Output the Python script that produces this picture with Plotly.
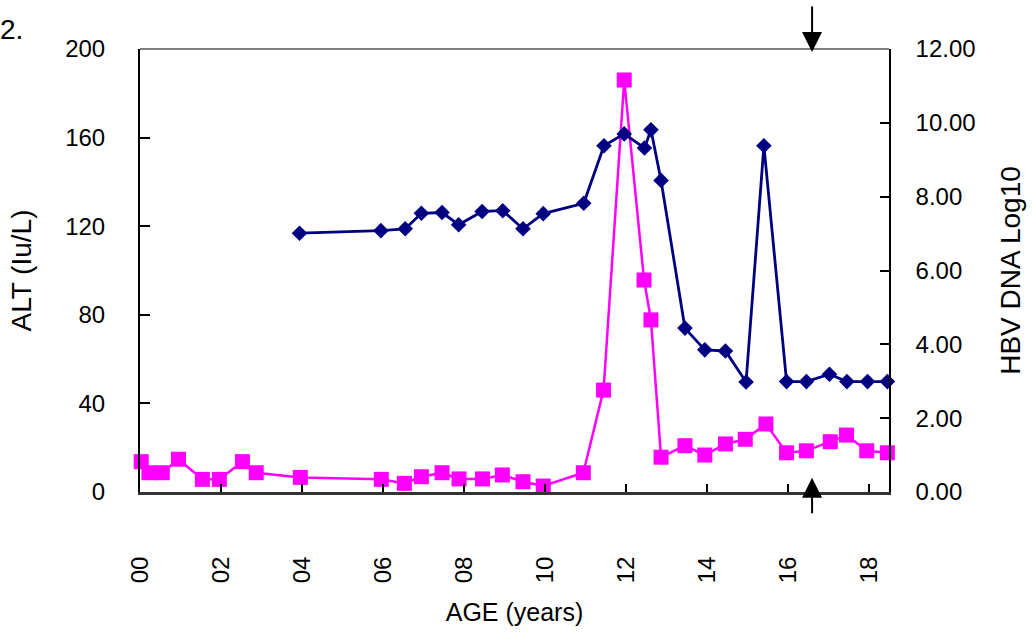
import plotly.graph_objects as go

# ---- data ----
age_alt = [0.03, 0.22, 0.55, 0.95, 1.54, 1.96, 2.53, 2.87, 3.96, 5.96, 6.53, 6.95,
           7.46, 7.88, 8.46, 8.95, 9.46, 9.96, 10.95, 11.45, 11.96, 12.45, 12.62,
           12.87, 13.46, 13.95, 14.46, 14.95, 15.46, 15.97, 16.46, 17.05, 17.45,
           17.95, 18.46]
alt_values = [13.7, 8.7, 8.7, 14.8, 5.7, 5.7, 13.7, 8.7, 6.6, 5.7, 3.9, 6.9,
              8.7, 5.9, 5.9, 7.7, 4.65, 2.7, 8.7, 46.0, 186.0, 95.7, 77.7,
              15.7, 20.9, 16.7, 21.7, 23.8, 30.7, 17.7, 18.6, 22.7, 25.7,
              18.6, 17.7]

age_hbv = [3.94, 5.95, 6.55, 6.95, 7.46, 7.87, 8.45, 8.96, 9.46, 9.96, 10.96,
           11.46, 11.96, 12.46, 12.62, 12.87, 13.46, 13.95, 14.46, 14.97, 15.41,
           15.97, 16.46, 17.03, 17.46, 17.97, 18.46]
hbv_log10 = [7.01, 7.08, 7.13, 7.55, 7.57, 7.24, 7.60, 7.62, 7.13, 7.54, 7.82,
             9.38, 9.70, 9.32, 9.81, 8.44, 4.44, 3.85, 3.82, 2.98, 9.38,
             2.99, 2.99, 3.19, 2.99, 2.99, 2.99]

x_tick_vals = [0, 2, 4, 6, 8, 10, 12, 14, 16, 18]
x_tick_text = ["00", "02", "04", "06", "08", "10", "12", "14", "16", "18"]
arrow_age = 16.6

FONT = "Arial, 'Liberation Sans', sans-serif"

fig = go.Figure()
fig.add_trace(go.Scatter(
    x=age_alt, y=alt_values, mode="lines+markers", name="ALT",
    line=dict(color="#FF00FF", width=2.5),
    marker=dict(symbol="square", size=15, color="#FF00FF"),
    cliponaxis=False, yaxis="y"))
fig.add_trace(go.Scatter(
    x=age_hbv, y=hbv_log10, mode="lines+markers", name="HBV DNA",
    line=dict(color="#000080", width=2.8),
    marker=dict(symbol="diamond", size=12, color="#000080"),
    cliponaxis=False, yaxis="y2"))

fig.update_layout(
    width=1033, height=644,
    margin=dict(l=140, r=139, t=49, b=152),
    paper_bgcolor="white", plot_bgcolor="white",
    showlegend=False,
    font=dict(family=FONT, size=24, color="black"),
    xaxis=dict(
        range=[0, 18.5], tickmode="array", tickvals=x_tick_vals, ticktext=x_tick_text,
        tickangle=-90, ticks="inside", ticklen=8, tickcolor="black", tickwidth=1.5,
        ticklabelstandoff=52,
        showline=True, linecolor="#333333", linewidth=3, showgrid=False, zeroline=False,
        title=dict(text="AGE (years)", font=dict(size=25), standoff=22),
    ),
    yaxis=dict(
        range=[0, 200], dtick=40, ticks="inside", ticklen=10, tickcolor="black",
        tickwidth=1.5, ticklabelstandoff=28,
        showline=True, linecolor="black", linewidth=2, showgrid=False, zeroline=False,
        title=dict(text="ALT (Iu/L)", font=dict(size=28), standoff=25),
    ),
    yaxis2=dict(
        range=[0, 12], dtick=2, tickformat=".2f", overlaying="y", side="right",
        ticks="inside", ticklen=9, tickcolor="black", tickwidth=1.5,
        ticklabelstandoff=20,
        showline=True, linecolor="black", linewidth=1.5, showgrid=False, zeroline=False,
        title=dict(text="HBV DNA Log10", font=dict(size=28), standoff=26),
    ),
    shapes=[dict(type="line", xref="paper", yref="paper", x0=0, x1=1, y0=1, y1=1,
                 line=dict(color="#808080", width=2))],
    annotations=[
        dict(x=arrow_age, y=0.993, xref="x", yref="paper", ax=0, ay=-47,
             showarrow=True, arrowhead=2, arrowsize=2, arrowwidth=2,
             arrowcolor="black", text=""),
        dict(x=arrow_age, y=0.032, xref="x", yref="paper", ax=0, ay=37,
             showarrow=True, arrowhead=2, arrowsize=2, arrowwidth=2,
             arrowcolor="black", text=""),
        dict(x=-0.153, y=1.045, xref="paper", yref="paper", xanchor="right",
             yanchor="middle", showarrow=False, text="2.",
             font=dict(size=28, family=FONT, color="black")),
    ],
)

fig.write_html("out.html")
